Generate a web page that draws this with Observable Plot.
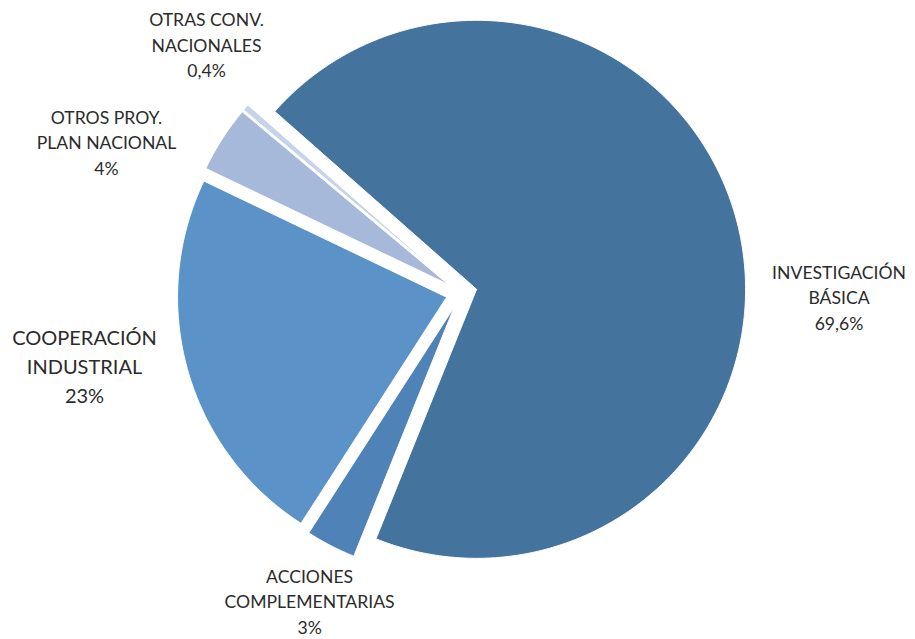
<!DOCTYPE html>
<html>
<head>
<meta charset="utf-8">
<script src="https://cdn.jsdelivr.net/npm/d3@7"></script>
<script src="https://cdn.jsdelivr.net/npm/@observablehq/plot@0.6"></script>
<style>
  html, body { margin: 0; padding: 0; background: #ffffff; }
  #chart { width: 915px; height: 639px; }
</style>
</head>
<body>
<div id="chart"></div>
<script>
// ---- data ----
const categories = ["INVESTIGACIÓN BÁSICA", "ACCIONES COMPLEMENTARIAS", "COOPERACIÓN INDUSTRIAL", "OTROS PROY. PLAN NACIONAL", "OTRAS CONV. NACIONALES"];
const labelLines = [["INVESTIGACIÓN", "BÁSICA"], ["ACCIONES", "COMPLEMENTARIAS"], ["COOPERACIÓN", "INDUSTRIAL"], ["OTROS PROY.", "PLAN NACIONAL"], ["OTRAS CONV.", "NACIONALES"]];
const values = [69.6, 3, 23, 4, 0.4];
const valueLabels = ["69,6%", "3%", "23%", "4%", "0,4%"];

// ---- styling / layout ----
const colors = ["#44749e", "#4f83b7", "#5b93c9", "#a6b9da", "#c6d3eb"];
const W = 915, H = 639;
const R = 269;                 // pie radius in px
const CX = 461, CY = 292.4;    // pie centre in px
const startAngle = -48.6;      // degrees, clockwise from north
const explode = 15.5 / R;      // explosion in radius units
// label anchors: [radius (in pie radii), angle (deg clockwise from north)]
const labelPolar = [[1.4035, 90.7], [1.279, 206.2], [1.428, 258.95], [1.4333, -67.04], [1.322, -45.8]];
const fontSizes = [17.6, 17.6, 20, 17.6, 17.6];

const rad = d => d * Math.PI / 180;
const total = d3.sum(values);

// slice polygons (unit-radius coordinates, y up)
const slicePts = [];
let acc = startAngle;
values.forEach((v, i) => {
  const a0 = acc, a1 = acc + v / total * 360;
  acc = a1;
  const m = (a0 + a1) / 2;
  const ox = explode * Math.sin(rad(m)), oy = explode * Math.cos(rad(m));
  const pts = [[ox, oy]];
  const n = Math.max(2, Math.ceil((a1 - a0) / 0.5));
  for (let k = 0; k <= n; k++) {
    const a = a0 + (a1 - a0) * k / n;
    pts.push([ox + Math.sin(rad(a)), oy + Math.cos(rad(a))]);
  }
  pts.push([ox, oy]);
  pts.forEach(([x, y]) => slicePts.push({name: categories[i], x, y}));
});

const labels = categories.map((c, i) => {
  const [r, a] = labelPolar[i];
  return {
    name: c,
    text: labelLines[i].join("\n") + "\n" + valueLabels[i],
    x: r * Math.sin(rad(a)),
    y: r * Math.cos(rad(a)),
    size: fontSizes[i]
  };
});

const chart = Plot.plot({
  width: W,
  height: H,
  margin: 0,
  style: {fontFamily: "Lato, 'Liberation Sans', sans-serif", background: "#ffffff"},
  x: {domain: [-CX / R, (W - CX) / R], range: [0, W], axis: null},
  y: {domain: [-(H - CY) / R, CY / R], range: [H, 0], axis: null},
  color: {domain: categories, range: colors},
  marks: [
    Plot.line(slicePts, {x: "x", y: "y", z: "name", fill: "name", stroke: "#ffffff", strokeWidth: 1, curve: "linear"}),
    Plot.text(labels, {x: "x", y: "y", text: "text", fontSize: "size", lineHeight: 1.45, textAnchor: "middle", lineAnchor: "middle", dy: -1.5, fill: "#2b2b2b"})
  ]
});
document.getElementById("chart").appendChild(chart);
</script>
</body>
</html>
